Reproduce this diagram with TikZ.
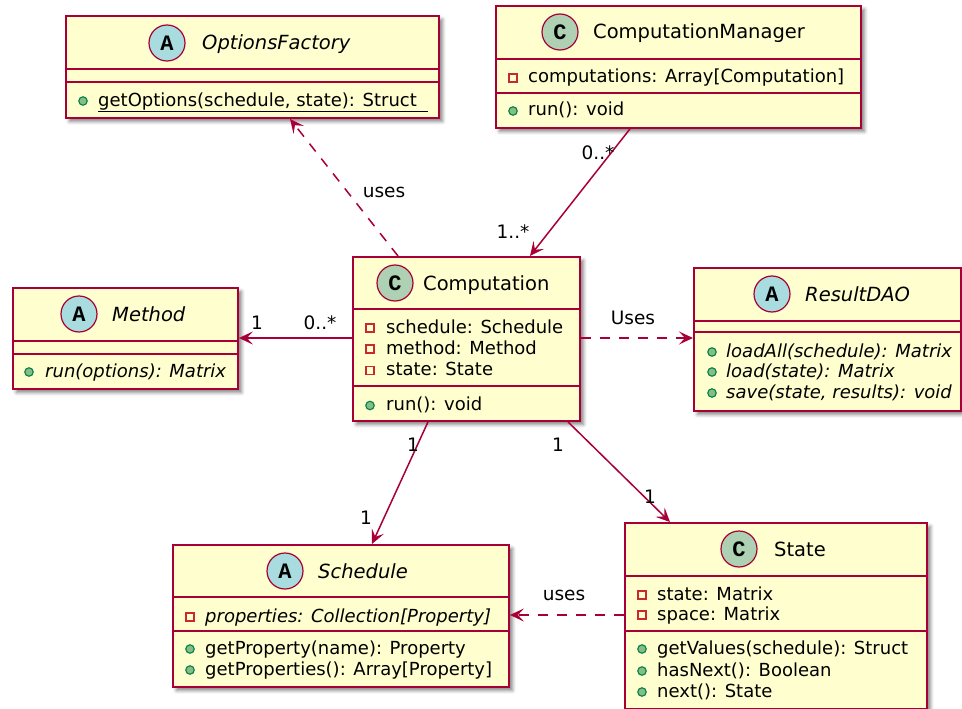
\documentclass[tikz,border=0pt]{standalone}
\usepackage{fontspec}
\setmainfont{DejaVu Sans}
\newfontfamily\spotfont{Liberation Mono}
\usetikzlibrary{arrows.meta,calc,shadows.blur}

\definecolor{umlfill}{HTML}{FEFECE}
\definecolor{umlline}{HTML}{A80036}
\definecolor{spotA}{HTML}{A9DCDF}
\definecolor{spotC}{HTML}{ADD1B2}
\definecolor{privline}{HTML}{C82930}
\definecolor{pubfill}{HTML}{84BE84}
\definecolor{publine}{HTML}{038048}

\tikzset{
  classbox/.style={rectangle, draw=umlline, fill=umlfill, line width=1.9pt,
    inner sep=0pt, anchor=north west,
    blur shadow={shadow xshift=3.5pt, shadow yshift=-3.5pt, shadow opacity=50, shadow blur radius=3.5pt}},
  divider/.style={draw=umlline, line width=1.8pt},
  spot/.style={circle, draw=umlline, line width=1.2pt, minimum size=36pt, inner sep=0pt,
    font=\spotfont\bfseries\fontsize{22}{22}\selectfont},
  abstractspot/.style={spot, fill=spotA},
  concretespot/.style={spot, fill=spotC},
  cname/.style={anchor=base west, inner sep=0pt, font=\fontsize{19.5}{23}\selectfont},
  member/.style={anchor=base west, inner sep=0pt, font=\fontsize{18}{21}\selectfont},
  privicon/.style={rectangle, draw=privline, line width=1.1pt, minimum size=8pt, inner sep=0pt},
  pubicon/.style={circle, draw=publine, fill=pubfill, line width=1.1pt, minimum size=8.5pt, inner sep=0pt},
  assoc/.style={draw=umlline, line width=1.5pt, -{Stealth[length=14pt,width=13pt,inset=6pt]}},
  depend/.style={assoc, dash pattern=on 10pt off 9pt},
  edgelabel/.style={inner sep=0pt, font=\fontsize{18.5}{22}\selectfont},
}

\begin{document}
\begin{tikzpicture}[x=1pt, y=-1pt]
\useasboundingbox (0,0) rectangle (962,709);

% ---------- OptionsFactory ----------
\node[classbox, minimum width=373pt, minimum height=102pt] (optf) at (65,15) {};
\draw[divider] (optf.west |- 0,69) -- (optf.east |- 0,69);
\draw[divider] (optf.west |- 0,82) -- (optf.east |- 0,82);
\node[abstractspot] (optfspot) at (167,43) {A};
\node[cname] (optfname) at (202,50) {\itshape OptionsFactory};
\node[pubicon] (optfm1i) at (83,101) {};
\node[member] (optfm1) at (98,106.5) {\underline{getOptions(schedule, state): Struct\ \ }};

% ---------- ComputationManager ----------
\node[classbox, minimum width=365pt, minimum height=122pt] (cm) at (495,5) {};
\draw[divider] (cm.west |- 0,59) -- (cm.east |- 0,59);
\draw[divider] (cm.west |- 0,93) -- (cm.east |- 0,93);
\node[concretespot] (cmspot) at (560,32) {C};
\node[cname] (cmname) at (593,39) {ComputationManager};
\node[privicon] (cma1i) at (513,78) {};
\node[member] (cma1) at (528,83) {computations: Array[Computation]};
\node[pubicon] (cmm1i) at (513,111) {};
\node[member] (cmm1) at (528,116) {run(): void};

% ---------- Computation ----------
\node[classbox, minimum width=227pt, minimum height=164pt] (comp) at (352,256) {};
\draw[divider] (comp.west |- 0,309) -- (comp.east |- 0,309);
\draw[divider] (comp.west |- 0,386) -- (comp.east |- 0,386);
\node[concretespot] (compspot) at (395,283) {C};
\node[cname] (compname) at (423,290) {Computation};
\node[privicon] (compa1i) at (370,328) {};
\node[member] (compa1) at (386,333) {schedule: Schedule};
\node[privicon] (compa2i) at (370,349) {};
\node[member] (compa2) at (386,354) {method: Method};
\node[privicon] (compa3i) at (370,370.5) {};
\node[member] (compa3) at (386,375.5) {state: State};
\node[pubicon] (compm1i) at (370,405.5) {};
\node[member] (compm1) at (386,410.5) {run(): void};

% ---------- Method ----------
\node[classbox, minimum width=225pt, minimum height=101pt] (meth) at (12,287) {};
\draw[divider] (meth.west |- 0,341) -- (meth.east |- 0,341);
\draw[divider] (meth.west |- 0,354) -- (meth.east |- 0,354);
\node[abstractspot] (methspot) at (79,314) {A};
\node[cname] (methname) at (112,321) {\itshape Method};
\node[pubicon] (methm1i) at (29,372) {};
\node[member] (methm1) at (45,377) {\itshape run(options): Matrix};

% ---------- ResultDAO ----------
\node[classbox, minimum width=267pt, minimum height=143pt] (rdao) at (693,267) {};
\draw[divider] (rdao.west |- 0,321) -- (rdao.east |- 0,321);
\draw[divider] (rdao.west |- 0,332) -- (rdao.east |- 0,332);
\node[abstractspot] (rdaospot) at (772,294) {A};
\node[cname] (rdaoname) at (805,301) {\itshape ResultDAO};
\node[pubicon] (rdaom1i) at (712,352) {};
\node[member] (rdaom1) at (726,357) {\itshape loadAll(schedule): Matrix};
\node[pubicon] (rdaom2i) at (712,372) {};
\node[member] (rdaom2) at (726,377) {\itshape load(state): Matrix};
\node[pubicon] (rdaom3i) at (712,393) {};
\node[member] (rdaom3) at (726,398) {\itshape save(state, results): void};

% ---------- Schedule ----------
\node[classbox, minimum width=336pt, minimum height=142pt] (sched) at (172,544) {};
\draw[divider] (sched.west |- 0,597) -- (sched.east |- 0,597);
\draw[divider] (sched.west |- 0,631) -- (sched.east |- 0,631);
\node[abstractspot] (schedspot) at (285,571) {A};
\node[cname] (schedname) at (318,578) {\itshape Schedule};
\node[privicon] (scheda1i) at (190,617) {};
\node[member] (scheda1) at (205,622) {\itshape properties: Collection[Property]};
\node[pubicon] (schedm1i) at (190,649) {};
\node[member] (schedm1) at (205,654) {getProperty(name): Property};
\node[pubicon] (schedm2i) at (190,670) {};
\node[member] (schedm2) at (205,675) {getProperties(): Array[Property]};

% ---------- State ----------
\node[classbox, minimum width=302pt, minimum height=186pt] (state) at (624,522) {};
\draw[divider] (state.west |- 0,576) -- (state.east |- 0,576);
\draw[divider] (state.west |- 0,631) -- (state.east |- 0,631);
\node[concretespot] (statespot) at (739,549) {C};
\node[cname] (statename) at (774,556) {State};
\node[privicon] (statea1i) at (642,595) {};
\node[member] (statea1) at (657,600) {state: Matrix};
\node[privicon] (statea2i) at (642,615) {};
\node[member] (statea2) at (657,620) {space: Matrix};
\node[pubicon] (statem1i) at (642,649) {};
\node[member] (statem1) at (657,654) {getValues(schedule): Struct};
\node[pubicon] (statem2i) at (642,671) {};
\node[member] (statem2) at (657,676) {hasNext(): Boolean};
\node[pubicon] (statem3i) at (642,692) {};
\node[member] (statem3) at (657,697) {next(): State};

% ---------- relations ----------
\draw[depend] ($(comp.north west)+(46,0)$) -- ($(optf.south west)+(225,0)$);
\node[edgelabel] (lbluses1) at (384,192) {uses};

\draw[assoc] ($(cm.south west)+(135,0)$) -- ($(comp.north west)+(178,0)$);
\node[edgelabel] (lblcm) at (598,153) {0..*};
\node[edgelabel] (lblcomp1) at (513,232) {1..*};

\draw[assoc] ($(comp.north west)+(0,82)$) -- ($(meth.north east)+(0,51)$);
\node[edgelabel] (lblmeth) at (257,323) {1};
\node[edgelabel] (lblcomp2) at (320,323) {0..*};

\draw[depend] ($(comp.north east)+(0,82)$) -- ($(rdao.north west)+(0,71)$);
\node[edgelabel] (lbluses2) at (633,318) {Uses};

\draw[assoc] ($(comp.south west)+(76,0)$) -- ($(sched.north west)+(200,0)$);
\node[edgelabel] (lblcomp3) at (413,445) {1};
\node[edgelabel] (lblsched) at (366,518) {1};

\draw[assoc] ($(comp.south west)+(216,0)$) -- ($(state.north west)+(46,0)$);
\node[edgelabel] (lblcomp4) at (558,445) {1};
\node[edgelabel] (lblstate) at (650,497) {1};

\draw[depend] ($(state.north west)+(0,93)$) -- ($(sched.north east)+(0,71)$);
\node[edgelabel] (lbluses3) at (564,595) {uses};
\end{tikzpicture}
\end{document}
